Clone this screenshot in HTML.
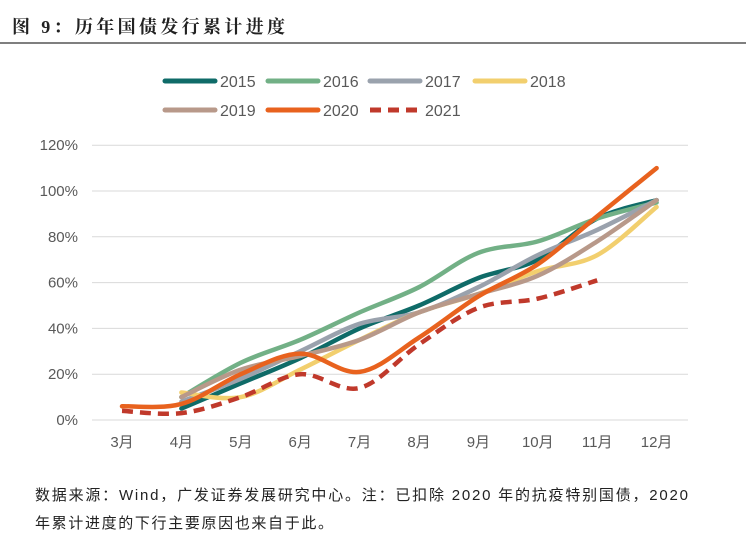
<!DOCTYPE html>
<html><head><meta charset="utf-8"><style>
body{margin:0;width:753px;height:555px;background:#fff;overflow:hidden;font-family:"Liberation Sans","Noto Sans CJK SC",sans-serif;}
</style></head><body>
<svg width="753" height="555" style="position:absolute;left:0;top:0">
<text x="12" y="33" font-size="18" font-weight="bold" fill="#222" textLength="273" lengthAdjust="spacing" font-family="Liberation Serif, Noto Serif CJK SC, serif">图 9：历年国债发行累计进度</text>
<line x1="0" y1="43" x2="746" y2="43" stroke="#333" stroke-width="1.2"/>
<g id="grid"></g><g id="axes"></g><g id="series"></g><g id="legend"></g>
<text x="35" y="500" font-size="15" fill="#222" textLength="653" lengthAdjust="spacing" font-family="Liberation Sans, Noto Sans CJK SC, sans-serif">数据来源：Wind，广发证券发展研究中心。注：已扣除 2020 年的抗疫特别国债，2020</text>
<text x="35" y="528" font-size="15" fill="#222" textLength="298" lengthAdjust="spacing" font-family="Liberation Sans, Noto Sans CJK SC, sans-serif">年累计进度的下行主要原因也来自于此。</text>
</svg>
<script>
const months=["3月","4月","5月","6月","7月","8月","9月","10月","11月","12月"];
const yTicks=[0,20,40,60,80,100,120];
const s2015=[null,5,16,27,40,50,62,70,88,96];
const s2016=[null,10,25,35,47,58,73,78,88,95];
const s2017=[null,8,18,30,42,47,58,72,83,96];
const s2018=[null,12,10,22,35,47,55,65,72,93];
const s2019=[null,10,22,28,35,47,55,63,78,96];
const s2020=[6,7,20,29,21,36,54,68,89,110];
const s2021=[4,3,10,20,14,33,49,53,61,null];
const names=["2015","2016","2017","2018","2019","2020","2021"];
const colors=["#0f6b68","#72b086","#9aa2ad","#f2cf6e","#b8998a","#e8621e","#c0392b"];
const seriesData=[s2015,s2016,s2017,s2018,s2019,s2020,s2021];
const NS="http://www.w3.org/2000/svg";
const X=i=>122+i*59.4, Y=v=>420-v*2.29;
function mk(tag,attrs,parent){const e=document.createElementNS(NS,tag);for(const k in attrs)e.setAttribute(k,attrs[k]);parent.appendChild(e);return e;}
const grid=document.getElementById('grid'),axes=document.getElementById('axes'),ser=document.getElementById('series'),leg=document.getElementById('legend');
yTicks.forEach(t=>{
 const l=mk('line',{x1:92,x2:688,y1:Y(t),y2:Y(t),stroke:"#d9d9d9","stroke-width":1},grid);
 
 
 const tx=mk('text',{x:78,y:Y(t)+5,"text-anchor":"end","font-size":15,fill:"#595959"},axes);
 tx.textContent=t+"%";
 
 
});
months.forEach((m,i)=>{
 const tx=mk('text',{x:X(i),y:447,"text-anchor":"middle","font-size":15,fill:"#595959","font-family":"Liberation Sans, Noto Sans CJK SC, sans-serif"},axes);
 tx.textContent=m;
 
 
});
function path(pts){let d="M"+pts[0][0]+","+pts[0][1];
 for(let i=0;i<pts.length-1;i++){const p0=pts[i-1]||pts[i],p1=pts[i],p2=pts[i+1],p3=pts[i+2]||p2;
  const c1=[p1[0]+(p2[0]-p0[0])/6,p1[1]+(p2[1]-p0[1])/6],c2=[p2[0]-(p3[0]-p1[0])/6,p2[1]-(p3[1]-p1[1])/6];
  d+=" C"+c1+" "+c2+" "+p2;}return d;}
seriesData.forEach((s,k)=>{
 const pts=[];s.forEach((v,i)=>{if(v!==null)pts.push([X(i),Y(v)]);});
 const p=mk('path',{d:path(pts),fill:"none",stroke:colors[k],"stroke-width":4.5,"stroke-linecap":k==6?"butt":"round","stroke-dasharray":k==6?"11,7":"none"},ser);
 
 
});
const lx=[165,268,370,475,165,268,370],ly=[81,81,81,81,110,110,110];
names.forEach((n,k)=>{
 const g=mk('g',{},leg);
 
 
 mk('line',{x1:lx[k],x2:lx[k]+50,y1:ly[k],y2:ly[k],stroke:colors[k],"stroke-width":5,"stroke-linecap":k==6?"butt":"round","stroke-dasharray":k==6?"11,7":"none"},g);
 const t=mk('text',{x:lx[k]+55,y:ly[k]+6,"font-size":16,fill:"#595959"},g);t.textContent=n;
});
</script>
</body></html>
